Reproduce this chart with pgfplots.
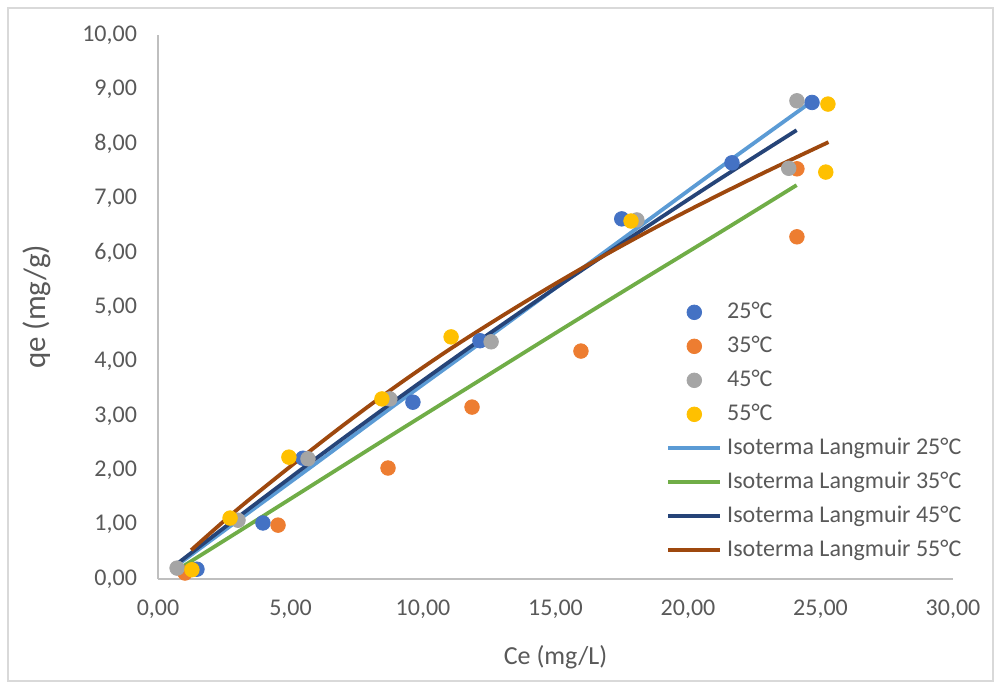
\documentclass[border=0pt]{standalone}
\usepackage{fontspec}
\setmainfont{Carlito}
\usepackage{pgfplots}
\pgfplotsset{compat=1.18}

\definecolor{txt}{HTML}{595959}
\definecolor{axiscol}{HTML}{BFBFBF}
\definecolor{framecol}{HTML}{D9D9D9}
\definecolor{cA}{HTML}{4472C4}
\definecolor{cB}{HTML}{ED7D31}
\definecolor{cC}{HTML}{A5A5A5}
\definecolor{cD}{HTML}{FFC000}
\definecolor{lA}{HTML}{5B9BD5}
\definecolor{lB}{HTML}{70AD47}
\definecolor{lC}{HTML}{264478}
\definecolor{lD}{HTML}{9E480E}

\begin{document}
\begin{tikzpicture}
\useasboundingbox (0,0) rectangle (500.5pt,344.5pt);
\draw[framecol, line width=0.6pt] (4pt,4pt) rectangle (496.5pt,340.5pt);
\begin{axis}[
  at={(79pt,55pt)}, anchor=south west,
  scale only axis, width=397.5pt, height=272pt,
  xmin=0, xmax=30, ymin=0, ymax=10,
  xtick={0,5,...,30}, ytick={0,1,...,10},
  axis lines*=left,
  axis line style={axiscol, line width=0.7pt},
  major tick length=0pt,
  /pgf/number format/fixed,
  /pgf/number format/fixed zerofill,
  /pgf/number format/precision=2,
  /pgf/number format/use comma,
  /pgf/number format/assume math mode=true,
  tick label style={font=\fontsize{12}{14}\selectfont, text=txt},
  yticklabel style={xshift=-7pt},
  xticklabel style={yshift=-7pt},
  xlabel={Ce (mg/L)}, ylabel={qe (mg/g)},
  xlabel style={font=\fontsize{13}{15}\selectfont, text=txt, yshift=-6.7pt},
  ylabel style={font=\fontsize{15.5}{18}\selectfont, text=txt, yshift=9pt},
  legend image code/.code={\draw[#1, mark repeat=2, mark phase=2] plot coordinates {(0pt,0pt) (13pt,0pt) (26pt,0pt)};},
  legend cell align=left,
  legend style={at={(rel axis cs:0.639,0.513)}, anchor=north west, draw=none, fill=none,
    inner sep=0pt, column sep=2.5pt, row sep=5pt,
    font=\fontsize{12}{14}\selectfont, text=txt,
    nodes={inner sep=0pt, text height=9pt, text depth=3pt}},
]
% measured points
\addplot[only marks, mark=*, mark size=3.65pt, cA, mark options={draw=cA, fill=cA}] coordinates {
  (1.47,0.18) (3.96,1.03) (5.47,2.22) (9.62,3.25) (12.15,4.38) (17.50,6.62) (21.66,7.65) (24.68,8.76)};
\addlegendentry{25°C}
\addplot[only marks, mark=*, mark size=3.65pt, cB, mark options={draw=cB, fill=cB}] coordinates {
  (1.02,0.11) (4.53,0.99) (8.68,2.04) (11.85,3.16) (15.96,4.19) (24.11,6.29) (24.11,7.54)};
\addlegendentry{35°C}
\addplot[only marks, mark=*, mark size=3.65pt, cC, mark options={draw=cC, fill=cC}] coordinates {
  (0.72,0.20) (3.02,1.08) (5.66,2.21) (8.75,3.31) (12.57,4.36) (18.07,6.60) (23.80,7.55) (24.11,8.79)};
\addlegendentry{45°C}
\addplot[only marks, mark=*, mark size=3.65pt, cD, mark options={draw=cD, fill=cD}] coordinates {
  (1.28,0.17) (2.72,1.12) (4.94,2.24) (8.45,3.31) (11.06,4.45) (17.85,6.58) (25.20,7.48) (25.28,8.73)};
\addlegendentry{55°C}
% Langmuir isotherm fits
\addplot[lA, line width=1.9pt, smooth, no marks] coordinates {
  (0.80,0.28) (3,1.07) (6,2.14) (9,3.22) (12,4.28) (15,5.35) (18,6.42) (21,7.49) (24.68,8.78)};
\addlegendentry{Isoterma Langmuir 25°C}
\addplot[lB, line width=1.9pt, smooth, no marks] coordinates {
  (0.90,0.22) (3,0.86) (6,1.78) (9,2.70) (12,3.61) (15,4.52) (18,5.42) (21,6.31) (24.10,7.24)};
\addlegendentry{Isoterma Langmuir 35°C}
\addplot[lC, line width=1.9pt, smooth, no marks] coordinates {
  (0.75,0.29) (3,1.13) (6,2.23) (9,3.30) (12,4.34) (15,5.35) (18,6.33) (21,7.29) (24.10,8.25)};
\addlegendentry{Isoterma Langmuir 45°C}
\addplot[lD, line width=1.9pt, smooth, no marks] coordinates {
  (1.25,0.53) (3,1.28) (5,2.07) (7,2.83) (9,3.55) (11,4.22) (13,4.84) (15,5.43) (17,5.99) (19,6.52) (21,7.02) (23,7.50) (25.30,8.03)};
\addlegendentry{Isoterma Langmuir 55°C}
\end{axis}
\end{tikzpicture}
\end{document}
